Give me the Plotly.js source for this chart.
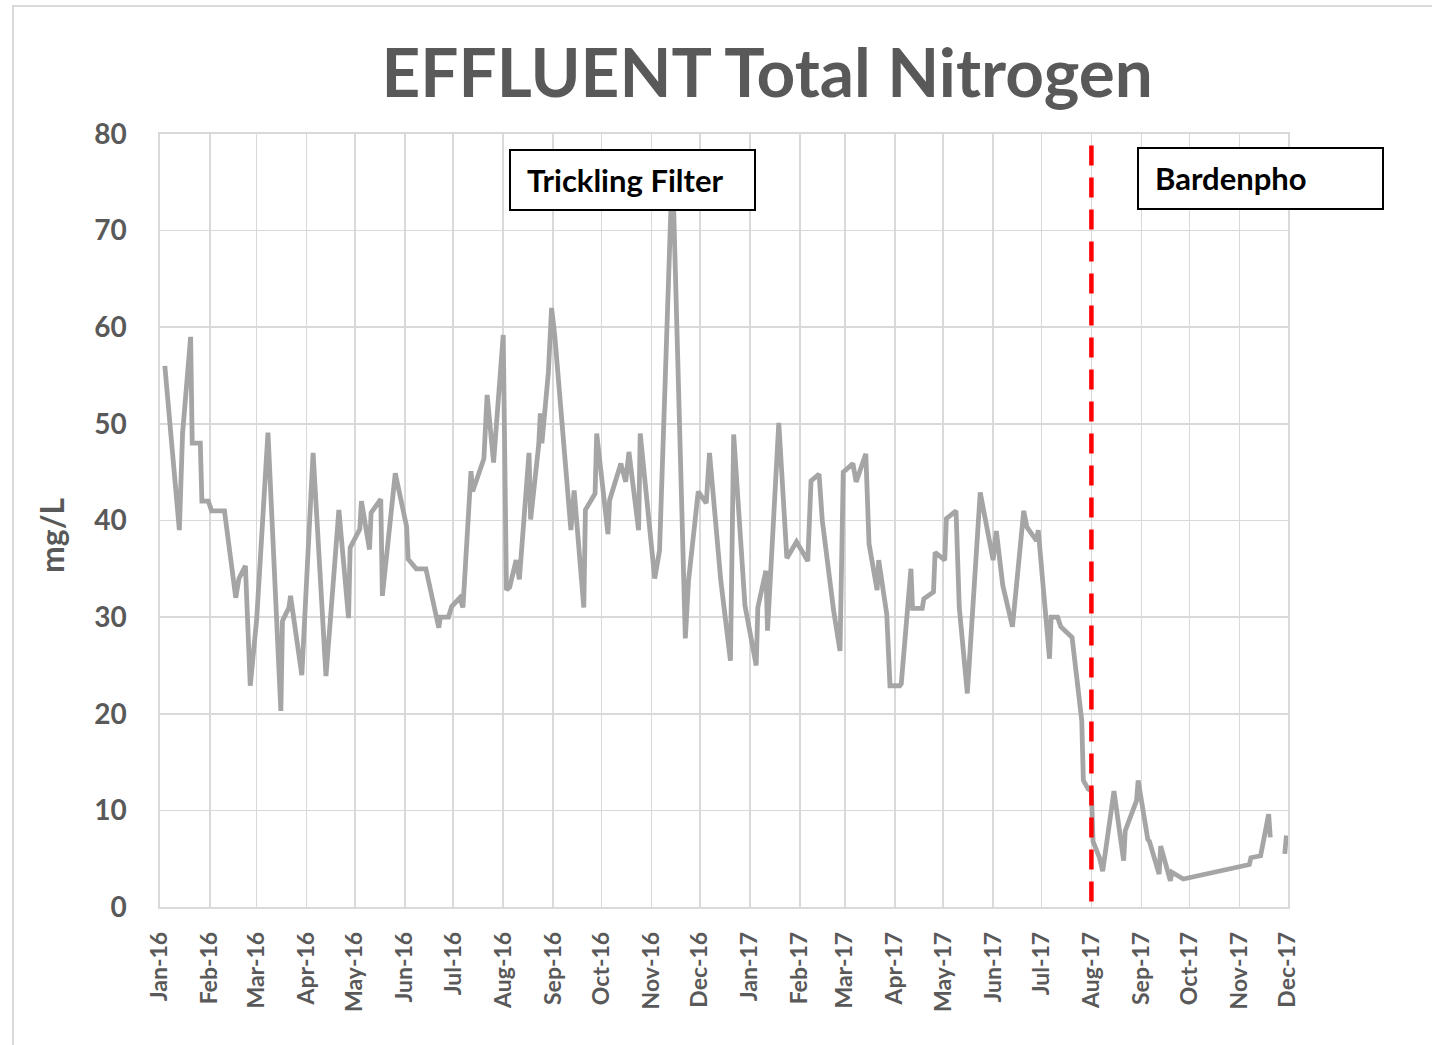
<!DOCTYPE html>
<html>
<head>
<meta charset="utf-8">
<script src="https://cdn.plot.ly/plotly-3.0.1.min.js"></script>
<style>
  html, body { margin: 0; padding: 0; background: #ffffff; }
  #chart { width: 1432px; height: 1045px; }
</style>
</head>
<body>
<div id="chart"></div>
<script>
const chartTitle = "EFFLUENT Total Nitrogen";
const yAxisLabel = "mg/L";
const phaseLabels = ["Trickling Filter", "Bardenpho"];
const changeoverDate = "2017-08-01";

const sampleDates = [
  "2016-01-04","2016-01-13","2016-01-15","2016-01-20","2016-01-21","2016-01-26","2016-01-27","2016-01-31","2016-02-02","2016-02-10",
  "2016-02-17","2016-02-19","2016-02-23","2016-02-26","2016-03-01","2016-03-08","2016-03-16","2016-03-17","2016-03-21","2016-03-22",
  "2016-03-29","2016-04-05","2016-04-13","2016-04-21","2016-04-27","2016-04-28","2016-05-04","2016-05-05","2016-05-10","2016-05-11",
  "2016-05-17","2016-05-18","2016-05-26","2016-06-02","2016-06-03","2016-06-08","2016-06-14","2016-06-22","2016-06-23","2016-06-28",
  "2016-06-30","2016-07-05","2016-07-07","2016-07-12","2016-07-13","2016-07-20","2016-07-22","2016-07-26","2016-08-01","2016-08-03",
  "2016-08-05","2016-08-09","2016-08-11","2016-08-17","2016-08-18","2016-08-23","2016-08-24","2016-08-25","2016-08-29","2016-08-31",
  "2016-09-02","2016-09-12","2016-09-14","2016-09-16","2016-09-20","2016-09-21","2016-09-27","2016-09-28","2016-10-05","2016-10-06",
  "2016-10-11","2016-10-13","2016-10-16","2016-10-18","2016-10-24","2016-10-25","2016-11-03","2016-11-06","2016-11-14","2016-11-22",
  "2016-11-24","2016-11-28","2016-11-30","2016-12-05","2016-12-07","2016-12-14","2016-12-20","2016-12-22","2016-12-29","2017-01-05",
  "2017-01-06","2017-01-11","2017-01-12","2017-01-19","2017-01-24","2017-01-30","2017-02-06","2017-02-08","2017-02-13","2017-02-15",
  "2017-02-21","2017-02-22","2017-02-26","2017-02-28","2017-03-06","2017-03-08","2017-03-14","2017-03-16","2017-03-21","2017-03-22",
  "2017-03-27","2017-03-29","2017-04-04","2017-04-05","2017-04-11","2017-04-12","2017-04-18","2017-04-19","2017-04-25","2017-04-26",
  "2017-05-02","2017-05-03","2017-05-09","2017-05-11","2017-05-16","2017-05-24","2017-06-01","2017-06-03","2017-06-07","2017-06-13",
  "2017-06-20","2017-06-22","2017-06-28","2017-06-29","2017-07-06","2017-07-07","2017-07-11","2017-07-13","2017-07-20","2017-07-26",
  "2017-07-27","2017-07-30","2017-08-01","2017-08-02","2017-08-06","2017-08-08","2017-08-15","2017-08-21","2017-08-22","2017-08-29",
  "2017-08-30","2017-09-05","2017-09-06","2017-09-12","2017-09-13","2017-09-19","2017-09-20","2017-09-27","2017-11-07","2017-11-08",
  "2017-11-14","2017-11-19","2017-11-20","2017-11-24","2017-11-29","2017-11-30"
];

const totalNitrogen = [
  56, 39, 49, 59, 48, 48, 42, 42, 41, 41,
  32, 34, 35.3, 22.9, 29.8, 49.1, 20.3, 29.6, 31, 32.2,
  24, 47, 23.9, 41.1, 29.9, 37.2, 39.1, 42, 37, 40.8,
  42.2, 32.2, 44.9, 39.4, 36, 35, 35, 28.9, 30, 30,
  31.1, 32, 31, 45.1, 43, 46.4, 53, 46, 59.2, 32.8,
  33.1, 35.9, 33.9, 47, 40.1, 47.8, 51.1, 48, 55.3, 62,
  59.1, 39, 43.1, 39.2, 31, 41.1, 42.8, 49, 38.6, 42.1,
  44.9, 45.9, 44, 47.1, 39, 49, 34, 36.9, 77, 27.8,
  33.8, 39.3, 43, 41.8, 47, 33.8, 25.5, 48.9, 31.2, 25,
  31, 34.8, 28.6, 50.1, 36.1, 37.8, 35.8, 44.1, 44.8, 40,
  31.7, 30.7, 26.5, 45, 45.9, 44, 46.9, 37.6, 32.8, 35.9,
  30.3, 22.9, 22.9, 23.1, 35, 30.9, 30.9, 31.9, 32.6, 36.7,
  35.9, 40.2, 41, 31, 22.1, 42.9, 35.9, 38.9, 33.3, 29,
  41, 39.3, 37.9, 39, 25.7, 30, 30, 29, 27.9, 19.3,
  13.1, 12.2, 12, 6.8, 5.1, 3.7, 12, 4.8, 7.9, 11,
  13.1, 7, 6.8, 3.4, 6.3, 2.7, 3.6, 2.9, 4.4, 5.1,
  5.3, 9.6, 7.2, null, 5.5, 7.4
];

const xRange = ["2016-01-01", "2017-12-01"];
const yRange = [0, 80];

const W = 1432, H = 1045;
const M = { l: 160, r: 144, t: 134, b: 138 };
const PW = W - M.l - M.r, PH = H - M.t - M.b;
const px = x => (x - M.l) / PW;
const py = y => 1 - (y - M.t) / PH;

const grey = "#595959";
const gridC = "#d9d9d9";
const FONT = "Lato, 'Open Sans', sans-serif";

const trace = {
  type: "scatter",
  mode: "lines",
  x: sampleDates,
  y: totalNitrogen,
  connectgaps: false,
  line: { color: "#a5a5a5", width: 4.8 },
  hoverinfo: "skip",
  showlegend: false
};

const layout = {
  width: W, height: H,
  margin: M,
  paper_bgcolor: "#ffffff",
  plot_bgcolor: "#ffffff",
  showlegend: false,
  font: { family: FONT, color: grey },
  title: {
    text: chartTitle,
    font: { family: FONT, size: 67.5, weight: 700, color: grey },
    x: 0.5383, xanchor: "center",
    y: 1 - 73 / H, yanchor: "middle",
    xref: "paper"
  },
  xaxis: {
    type: "date",
    range: xRange,
    tick0: xRange[0],
    dtick: "M1",
    tickformat: "%b-%y",
    tickangle: -90,
    ticks: "",
    ticklabelstandoff: 14,
    tickfont: { family: FONT, size: 23, weight: 700, color: grey },
    showgrid: true, gridcolor: gridC, gridwidth: 1.6,
    showline: true, linecolor: gridC, linewidth: 1.6, mirror: true,
    zeroline: false, automargin: false, fixedrange: true
  },
  yaxis: {
    range: yRange,
    dtick: 10,
    tick0: 0,
    ticks: "",
    ticklabelstandoff: 26,
    tickfont: { family: FONT, size: 28, weight: 700, color: grey },
    showgrid: true, gridcolor: gridC, gridwidth: 1.6,
    showline: true, linecolor: gridC, linewidth: 1.6, mirror: true,
    zeroline: false, automargin: false, fixedrange: true
  },
  shapes: [
    { type: "rect", xref: "paper", yref: "paper",
      x0: px(13), x1: px(1500), y0: py(1100), y1: py(6),
      line: { color: gridC, width: 2 }, fillcolor: "rgba(0,0,0,0)", layer: "below" },
    { type: "line", xref: "x", yref: "y",
      x0: changeoverDate, x1: changeoverDate, y0: 78.8, y1: 0,
      line: { color: "#ff0000", width: 4.5, dash: "20px,12px" }, layer: "above" },
    { type: "rect", xref: "paper", yref: "paper",
      x0: px(510), x1: px(755), y0: py(210), y1: py(150),
      line: { color: "#000000", width: 2 }, fillcolor: "#ffffff", layer: "above" },
    { type: "rect", xref: "paper", yref: "paper",
      x0: px(1138), x1: px(1383), y0: py(209), y1: py(148),
      line: { color: "#000000", width: 2 }, fillcolor: "#ffffff", layer: "above" }
  ],
  annotations: [
    { text: phaseLabels[0], xref: "paper", yref: "paper",
      x: px(525), y: py(180), xanchor: "left", yanchor: "middle", showarrow: false,
      font: { family: FONT, size: 31, weight: 700, color: "#000000" } },
    { text: phaseLabels[1], xref: "paper", yref: "paper",
      x: px(1153), y: py(178), xanchor: "left", yanchor: "middle", showarrow: false,
      font: { family: FONT, size: 31, weight: 700, color: "#000000" } },
    { text: yAxisLabel, xref: "paper", yref: "paper",
      x: px(51), y: py(535), xanchor: "center", yanchor: "middle", showarrow: false,
      textangle: -90,
      font: { family: FONT, size: 32, weight: 700, color: grey } }
  ]
};

Plotly.newPlot("chart", [trace], layout, { staticPlot: true, displayModeBar: false });
</script>
</body>
</html>
